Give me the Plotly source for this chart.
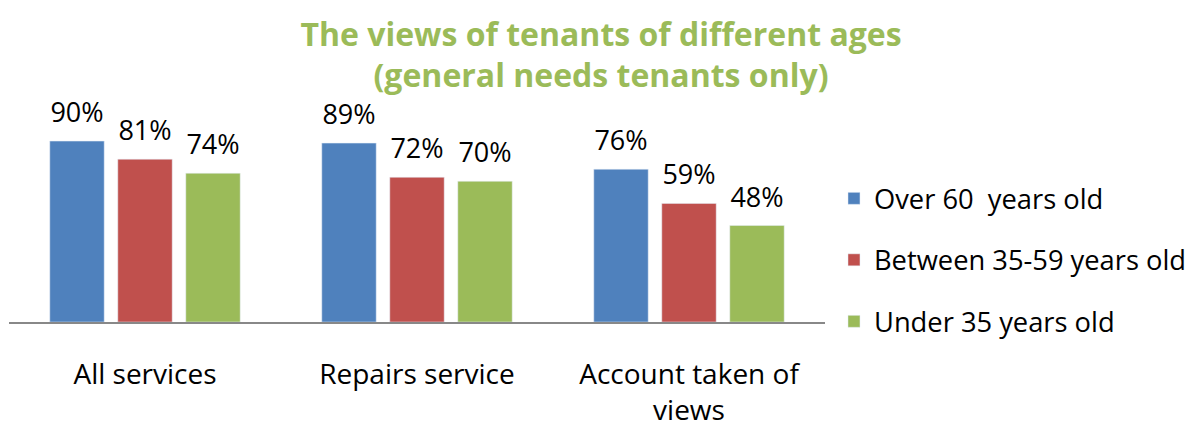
import plotly.graph_objects as go

categories = ["All services", "Repairs service", "Account taken of<br>views"]
series_names = ["Over 60  years old", "Between 35-59 years old", "Under 35 years old"]
over_60 = [90, 89, 76]
between_35_59 = [81, 72, 59]
under_35 = [74, 70, 48]

colors = ["#4F81BD", "#C0504D", "#9BBB59"]
font = "Open Sans"

fig = go.Figure()
for i, (name, vals) in enumerate(zip(series_names, [over_60, between_35_59, under_35])):
    fig.add_trace(go.Bar(
        x=categories, y=vals, name=name, legendgroup=str(i),
        offsetgroup=str(i), marker=dict(color=colors[i]),
    ))
    # value labels, a bit higher above the bars than bar text would sit
    fig.add_trace(go.Scatter(
        x=categories, y=vals, mode="markers+text", offsetgroup=str(i),
        text=[f"{v}%" for v in vals], textposition="top center",
        textfont=dict(family=font, size=27, color="black"),
        marker=dict(size=18, opacity=0), showlegend=False,
        hoverinfo="skip", cliponaxis=False,
    ))

# page body has an 8px margin, so margins are set 8px short on left/top
fig.update_layout(
    width=1198, height=421,
    paper_bgcolor="white", plot_bgcolor="white",
    margin=dict(l=1, r=381, t=113, b=107),
    barmode="group", bargap=0.25, bargroupgap=0.2,
    scattermode="group", scattergap=0.25,
    title=dict(
        text="<b>The views of tenants of different ages<br>(general needs tenants only)</b>",
        x=0.495, xref="container", xanchor="center", y=0.91, yanchor="top",
        font=dict(family=font, size=32, color="#9BBB59"),
    ),
    legend=dict(
        x=1.011, y=0.308, xanchor="left", yanchor="middle",
        font=dict(family=font, size=27.3, color="black"),
        tracegroupgap=23,
    ),
    xaxis=dict(
        showline=True, linecolor="#888888", linewidth=2, automargin=False,
        showgrid=False, ticks="", ticklabelstandoff=26,
        tickfont=dict(family=font, size=28, color="black"),
    ),
    yaxis=dict(range=[0, 100], visible=False, showgrid=False),
)

fig.write_html("out.html")
